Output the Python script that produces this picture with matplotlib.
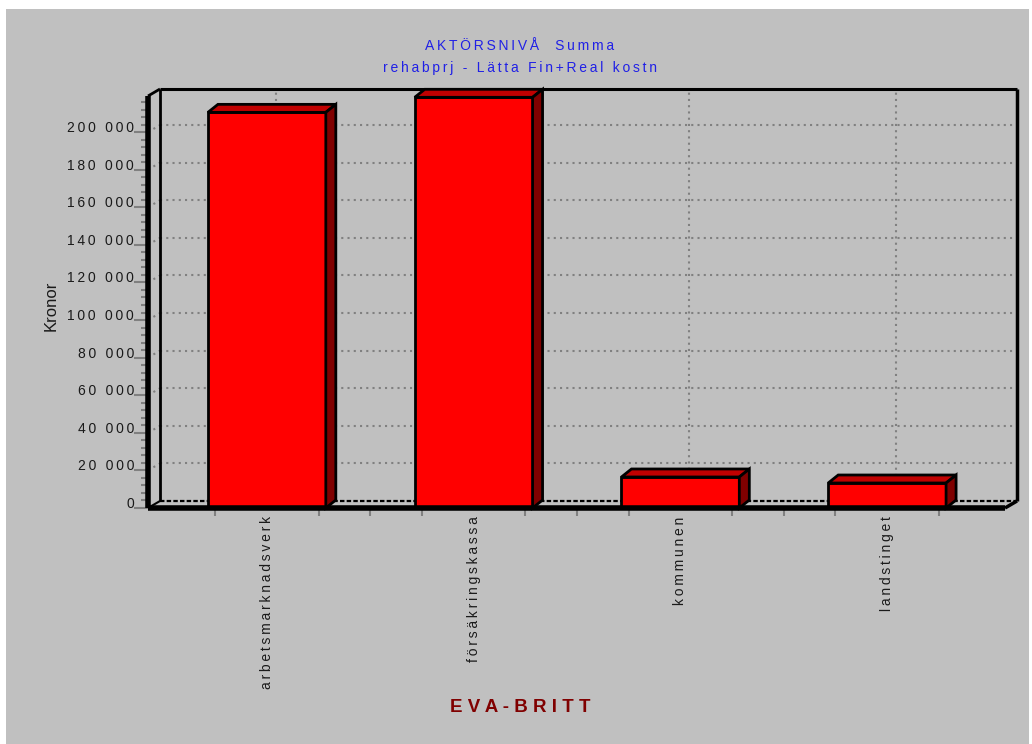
import numpy as np
import matplotlib.pyplot as plt
from matplotlib.patches import Rectangle, Polygon

plt.rcParams['font.family'] = ['Liberation Sans', 'DejaVu Sans']

# data
categories = ['arbetsmarknadsverk', 'försäkringskassa', 'kommunen', 'landstinget']
values = [210500, 218500, 16500, 13300]
y_ticks = list(range(0, 200001, 20000))
title_lines = ['AKTÖRSNIVÅ  Summa', 'rehabprj - Lätta Fin+Real kostn']
y_title = 'Kronor'
x_title = 'EVA-BRITT'

W, H = 1032, 744
THIN = '\u2009'


def spaced(s, sep=THIN):
    return sep.join(s)


def fx(px):
    return px / W


def fy(py):
    return 1 - py / H


fig = plt.figure(figsize=(W / 100, H / 100), dpi=100)
fig.patch.set_facecolor('white')
fig.patches.append(Rectangle((fx(6), 0), fx(1029) - fx(6), fy(9), transform=fig.transFigure,
                             facecolor='#c0c0c0', edgecolor='none', zorder=-10))

ax = fig.add_axes([fx(148), fy(508), fx(1005) - fx(148), fy(96) - fy(508)])
ax.patch.set_visible(False)
for s in ax.spines.values():
    s.set_visible(False)

x0, x1 = -0.575, 3.57
y0, y1 = 0, 219200
ax.set_xlim(x0, x1)
ax.set_ylim(y0, y1)

# pixel -> data conversions for the fake depth
ppx = ax.bbox.width / (x1 - x0)
ppy = ax.bbox.height / (y1 - y0)
wall_dx, wall_dy = 12 / ppx, 7 / ppy
bar_dx, bar_dy = 10 / ppx, 8 / ppy
grid_dx = 9 / ppx

xs = np.arange(len(categories))
grid_kw = dict(color='#808080', lw=1.5, ls=(0, (1, 2)), zorder=1, clip_on=False)

# back wall grid
for t in y_ticks[1:]:
    ax.plot([x0 + wall_dx, x1 + wall_dx], [t + wall_dy, t + wall_dy], **grid_kw)
    ax.plot([x0, x0 + wall_dx], [t, t + wall_dy], **grid_kw)
for x in xs:
    ax.plot([x + grid_dx, x + grid_dx], [wall_dy, y1 + wall_dy], **grid_kw)

# back wall frame and floor
line_kw = dict(color='black', clip_on=False, solid_capstyle='butt')
ax.plot([x0 + wall_dx, x1 + wall_dx], [y1 + wall_dy, y1 + wall_dy], lw=2.2, zorder=2, **line_kw)
ax.plot([x0 + wall_dx, x0 + wall_dx], [wall_dy, y1 + wall_dy], lw=2, zorder=2, **line_kw)
ax.plot([x1 + wall_dx, x1 + wall_dx], [wall_dy, y1 + wall_dy], lw=2.5, zorder=2, **line_kw)
ax.plot([x0 + wall_dx, x1 + wall_dx], [wall_dy, wall_dy], color='black', lw=1.6,
        ls=(0, (2, 1)), zorder=2, clip_on=False)
ax.plot([x0, x0 + wall_dx], [y1, y1 + wall_dy], lw=2, zorder=2, **line_kw)
ax.plot([x0, x0 + wall_dx], [0, wall_dy], lw=1.5, zorder=2, **line_kw)
ax.plot([x1, x1 + wall_dx], [0, wall_dy], lw=2.5, zorder=2, **line_kw)

# bars with top and side faces
bw = 0.57
ax.bar(xs, values, width=bw, color='#ff0000', edgecolor='black', linewidth=2, zorder=3,
       clip_on=False)
for x, v in zip(xs, values):
    l, r = x - bw / 2, x + bw / 2
    top = Polygon([(l, v), (r, v), (r + bar_dx, v + bar_dy), (l + bar_dx, v + bar_dy)],
                  closed=True, facecolor='#c00000', edgecolor='black', lw=2, zorder=3,
                  clip_on=False, joinstyle='miter')
    side = Polygon([(r, 0), (r + bar_dx, bar_dy), (r + bar_dx, v + bar_dy), (r, v)],
                   closed=True, facecolor='#800000', edgecolor='black', lw=2, zorder=3,
                   clip_on=False, joinstyle='miter')
    ax.add_patch(top)
    ax.add_patch(side)

# front axes
ax.plot([x0, x0], [0, y1], lw=4, zorder=5, **line_kw)
ax.plot([x0, x1], [0, 0], lw=4, zorder=5, **line_kw)

# y ticks
ax.set_yticks(y_ticks)
ax.set_yticklabels([spaced(f'{t:,}'.replace(',', ' ')) for t in y_ticks],
                   fontsize=10, color='#1a1a1a')
for lab in ax.get_yticklabels():
    lab.set_va('baseline')
ax.set_yticks(range(0, 216001, 4000), minor=True)
ax.tick_params(axis='y', which='major', length=10, width=1.5, color='#808080', pad=0)
ax.tick_params(axis='y', which='minor', length=5, width=1.5, color='#808080')

# x ticks
ax.set_xticks(xs)
ax.set_xticklabels([spaced(c) for c in categories], rotation=90, fontsize=10, color='#1a1a1a',
                   va='top', ha='center')
minor_x = sorted([x + d for x in xs for d in (-0.25, 0.25)] + [x + 0.5 for x in xs[:-1]])
ax.set_xticks(minor_x, minor=True)
ax.tick_params(axis='x', which='major', length=0, pad=6)
ax.tick_params(axis='x', which='minor', length=6, width=1.5, color='#808080')

# titles
fig.text(fx(520), fy(46), spaced(title_lines[0]), color='#2020e6', fontsize=10,
         ha='center', va='center')
fig.text(fx(520), fy(68), spaced(title_lines[1]), color='#2020e6', fontsize=10,
         ha='center', va='center')
fig.text(fx(51), fy(306), y_title, rotation=90, fontsize=12, color='#1a1a1a',
         ha='center', va='center')
fig.text(fx(520), fy(708), spaced(x_title, ' '), color='#800000', fontsize=13.5,
         fontweight='bold', ha='center', va='center')

fig.savefig('out.png', dpi=100)
